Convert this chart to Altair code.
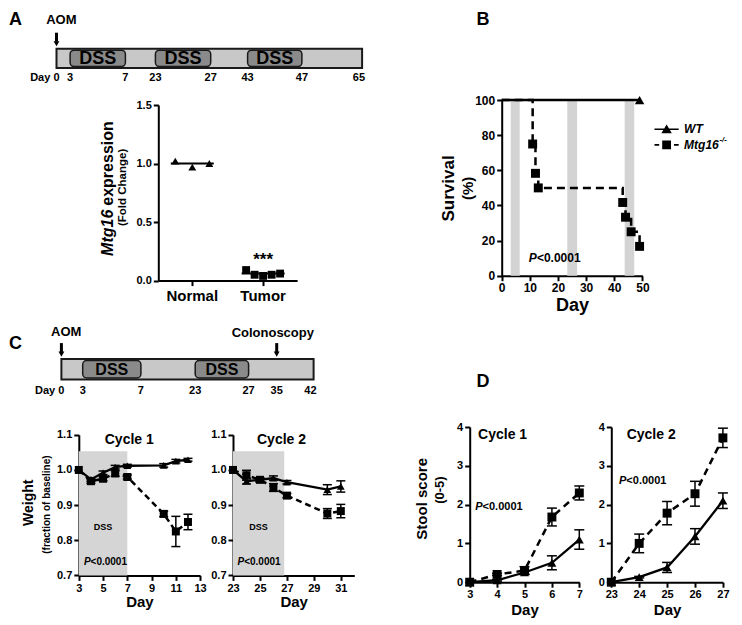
import altair as alt
import pandas as pd

FONT = "Liberation Sans"

# ---------------- data ----------------
# Panel A timeline (schematic, not to scale)
tlA_days = [0, 3, 7, 23, 27, 43, 47, 65]
tlA_tick_labels = ["Day 0", "3", "7", "23", "27", "43", "47", "65"]
tlA_dss_start = [3, 23, 43]
tlA_dss_end = [7, 27, 47]
tlA_arrow_days = [0]
tlA_arrow_text = ["AOM"]
dss_label = "DSS"

# Panel A expression
a_categories = ["Normal", "Tumor"]
a_group = ["Normal", "Normal", "Normal", "Tumor", "Tumor", "Tumor", "Tumor", "Tumor"]
a_rep = ["r1", "r3", "r5", "r1", "r2", "r3", "r4", "r5"]
a_value = [1.02, 0.97, 1.00, 0.09, 0.05, 0.04, 0.05, 0.06]
a_mean_group = ["Normal", "Tumor"]
a_mean = [1.00, 0.06]
a_signif = "***"

# Panel B survival
b_wt_day = [0, 49]
b_wt_surv = [100, 100]
b_ko_day = [0, 11, 12, 13, 43, 44, 46, 49]
b_ko_surv = [100, 75, 58.3, 50, 41.7, 33.3, 25, 16.7]
b_band_start = [3.2, 23.3, 43.7]
b_band_end = [6.4, 26.8, 47.1]
series_names = ["WT", "Mtg16"]
ko_superscript = "-/-"
p_text = "P<0.0001"

# Panel C timeline
tlC_days = [0, 3, 7, 23, 27, 35, 42]
tlC_tick_labels = ["Day 0", "3", "7", "23", "27", "35", "42"]
tlC_dss_start = [3, 23]
tlC_dss_end = [7, 27]
tlC_arrow_days = [0, 35]
tlC_arrow_text = ["AOM", "Colonoscopy"]

# Panel C weight
c1_day = [3, 4, 5, 6, 7, 10, 11, 12]
c1_wt = [1.000, 0.973, 0.992, 1.008, 1.012, 1.013, 1.025, 1.029]
c1_wt_err = [0, 0.005, 0.005, 0.005, 0.004, 0.005, 0.005, 0.004]
c1_ko = [1.000, 0.968, 0.975, 0.990, 0.980, 0.875, 0.825, 0.852]
c1_ko_err = [0, 0.006, 0.006, 0.008, 0.006, 0.008, 0.043, 0.022]

c2_day = [23, 24, 25, 26, 27, 30, 31]
c2_wt = [1.000, 0.968, 0.972, 0.977, 0.965, 0.944, 0.953]
c2_wt_err = [0, 0.008, 0.005, 0.006, 0.005, 0.014, 0.016]
c2_ko = [1.000, 0.985, 0.972, 0.950, 0.927, 0.876, 0.883]
c2_ko_err = [0, 0.014, 0.006, 0.011, 0.006, 0.014, 0.019]

# Panel D stool score
d1_day = [3, 4, 5, 6, 7]
d1_wt = [0, 0.05, 0.25, 0.50, 1.10]
d1_wt_err = [0, 0.02, 0.05, 0.18, 0.25]
d1_ko = [0, 0.20, 0.30, 1.68, 2.30]
d1_ko_err = [0, 0.03, 0.10, 0.23, 0.18]

d2_day = [23, 24, 25, 26, 27]
d2_wt = [0, 0.13, 0.38, 1.18, 2.10]
d2_wt_err = [0, 0.02, 0.13, 0.20, 0.20]
d2_ko = [0, 1.00, 1.78, 2.28, 3.72]
d2_ko_err = [0, 0.24, 0.30, 0.32, 0.25]

# ---------------- canvas geometry ----------------
CW, CH = 726, 606
S = 0.97


def cx(v):
    return round(v * S, 1)


def cy(v):
    return round(v * S, 1)


def xaxis_at(ybottom, **kw):
    return alt.Axis(orient="bottom", offset=cy(ybottom) - CH, labelFlush=False,
                    labelOverlap=False, **kw)


def yaxis_at(xleft, **kw):
    return alt.Axis(orient="left", offset=-cx(xleft), labelFlush=False,
                    labelOverlap=False, **kw)


# ---------------- helpers ----------------
def txt(x, y, s, size, align="center", baseline="middle", angle=None,
        italic=False, dx=None, dy=None):
    kw = dict(font=FONT, fontSize=size, align=align, baseline=baseline,
              color="black", fontWeight="bold")
    if italic:
        kw["fontStyle"] = "italic"
    if angle is not None:
        kw["angle"] = angle
    if dx is not None:
        kw["dx"] = dx
    if dy is not None:
        kw["dy"] = dy
    return alt.Chart(pd.DataFrame({"t": [s]})).mark_text(**kw).encode(
        x=alt.value(x), y=alt.value(y), text="t:N")


def dtxt(X, Y, xv, yv, s, size, align="center", baseline="middle", italic=False):
    kw = dict(font=FONT, fontSize=size, align=align, baseline=baseline,
              color="black", fontWeight="bold")
    if italic:
        kw["fontStyle"] = "italic"
    return alt.Chart(pd.DataFrame({"xv": [xv], "yv": [yv], "t": [s]})).mark_text(**kw).encode(
        x=X("xv"), y=Y("yv"), text="t:N")


def ptext(X, Y, xv, yv, size):
    return [dtxt(X, Y, xv, yv, p_text[0], size, align="right", italic=True),
            dtxt(X, Y, xv, yv, p_text[1:], size, align="left")]


def timeline(days, tick_labels, dss_s, dss_e, xpix, ytop, ybot, arrow_days, arrow_text,
             arrow_text_xy, letter, letter_xy, label_y, dss_size):
    xs = alt.Scale(domain=days, range=[cx(v) for v in xpix], zero=False, nice=False)

    def X(f):
        return alt.X(f"{f}:Q", scale=xs, axis=None)

    y0, y1 = cy(ytop), cy(ybot)
    layers = []
    bar = pd.DataFrame({"s": [days[0]], "e": [days[-1]]})
    layers.append(alt.Chart(bar).mark_rect(fill="#c8c8c8", stroke="#1a1a1a", strokeWidth=2).encode(
        x=X("s"), x2="e", y=alt.value(y0), y2=alt.value(y1)))
    dss = pd.DataFrame({"s": dss_s, "e": dss_e})
    layers.append(alt.Chart(dss).mark_rect(fill="#8a8a8a", stroke="#1a1a1a", strokeWidth=1.5,
                                           cornerRadius=4).encode(
        x=X("s"), x2="e", y=alt.value(y0 + 1.5), y2=alt.value(y1 - 1.5)))
    layers.append(alt.Chart(dss).transform_calculate(m="(datum.s + datum.e) / 2").mark_text(
        font=FONT, fontWeight="bold", fontSize=dss_size, color="black", baseline="middle").encode(
        x=X("m"), y=alt.value((y0 + y1) / 2 + 1), text=alt.value(dss_label)))
    ticks = pd.DataFrame({"d": days, "t": tick_labels})
    common = dict(font=FONT, fontWeight="bold", fontSize=11, color="black", baseline="middle")
    ly = cy(label_y)
    layers.append(alt.Chart(ticks.iloc[[0]]).mark_text(align="right", dx=3, **common).encode(
        x=X("d"), y=alt.value(ly), text="t:N"))
    layers.append(alt.Chart(ticks.iloc[1:-1]).mark_text(align="center", **common).encode(
        x=X("d"), y=alt.value(ly), text="t:N"))
    layers.append(alt.Chart(ticks.iloc[[-1]]).mark_text(align="right", dx=3, **common).encode(
        x=X("d"), y=alt.value(ly), text="t:N"))
    arr = pd.DataFrame({"d": arrow_days, "t": arrow_text})
    layers.append(alt.Chart(arr).mark_rule(color="black", strokeWidth=3).encode(
        x=X("d"), y=alt.value(y0 - 16), y2=alt.value(y0 - 7)))
    layers.append(alt.Chart(arr).mark_point(shape="triangle-down", filled=True, size=34,
                                            color="black", opacity=1).encode(
        x=X("d"), y=alt.value(y0 - 5)))
    for s, (tx, ty) in zip(arrow_text, arrow_text_xy):
        layers.append(txt(cx(tx), cy(ty), s, 13))
    layers.append(txt(cx(letter_xy[0]), cy(letter_xy[1]), letter, 18, align="left", baseline="top"))
    return alt.layer(*layers)


def cycle_chart(days, wt, wt_err, ko, ko_err, xdom, xticks, ydom, yticks, yfmt, xpix, ypix,
                title, title_xy, p_xy, p_size, band=None, band_label_xy=None,
                ylab=None, letter=None, tri_size=60, sq_size=64,
                x_label_pad=2, title_pad=1, cap=9, dash=(6, 4)):
    xs = alt.Scale(domain=xdom, range=[cx(xpix[0]), cx(xpix[1])], nice=False, zero=False)
    ys = alt.Scale(domain=ydom, range=[cy(ypix[0]), cy(ypix[1])], nice=False, zero=False)
    xax = xaxis_at(ypix[0], values=xticks, title="Day", titleFontSize=15,
                   labelPadding=x_label_pad, titlePadding=title_pad)
    yax = yaxis_at(xpix[0], values=yticks, format=yfmt, title=None)

    def X(f):
        return alt.X(f"{f}:Q", scale=xs, axis=xax)

    def Y(f):
        return alt.Y(f"{f}:Q", scale=ys, axis=yax)

    layers = []
    if band is not None:
        bdf = pd.DataFrame({"x0": [band[0]], "x1": [band[1]], "y0": [band[2]], "y1": [band[3]]})
        layers.append(alt.Chart(bdf).mark_rect(fill="#d5d5d5").encode(
            x=X("x0"), x2="x1", y=Y("y0"), y2="y1"))
        layers.append(dtxt(X, Y, band_label_xy[0], band_label_xy[1], dss_label, 9))
    n = len(days)
    df = pd.DataFrame({"day": list(days) * 2, "val": list(wt) + list(ko),
                       "err": list(wt_err) + list(ko_err), "g": ["WT"] * n + ["KO"] * n})
    wt_base = alt.Chart(df).transform_filter("datum.g == 'WT'")
    ko_base = alt.Chart(df).transform_filter("datum.g == 'KO'")
    layers.append(wt_base.mark_line(color="black", strokeWidth=2.3).encode(x=X("day"), y=Y("val")))
    layers.append(ko_base.mark_line(color="black", strokeWidth=2.5, strokeDash=list(dash)).encode(
        x=X("day"), y=Y("val")))
    eb = alt.Chart(df).transform_filter("datum.err > 0").transform_calculate(
        lo="datum.val - datum.err", hi="datum.val + datum.err")
    layers.append(eb.mark_rule(color="black", strokeWidth=1.5).encode(x=X("day"), y=Y("lo"), y2="hi"))
    layers.append(eb.mark_tick(color="black", orient="horizontal", size=cap, thickness=1.5,
                               opacity=1).encode(x=X("day"), y=Y("lo")))
    layers.append(eb.mark_tick(color="black", orient="horizontal", size=cap, thickness=1.5,
                               opacity=1).encode(x=X("day"), y=Y("hi")))
    layers.append(wt_base.mark_point(shape="triangle-up", filled=True, size=tri_size, color="black",
                                     opacity=1).encode(x=X("day"), y=Y("val")))
    layers.append(ko_base.mark_point(shape="square", filled=True, size=sq_size, color="black",
                                     opacity=1).encode(x=X("day"), y=Y("val")))
    layers.append(dtxt(X, Y, title_xy[0], title_xy[1], title, 14))
    layers += ptext(X, Y, p_xy[0], p_xy[1], p_size)
    if ylab is not None:
        for (lx, ly, s, size) in ylab:
            layers.append(txt(cx(lx), cy(ly), s, size, angle=270))
    if letter is not None:
        layers.append(txt(cx(letter[0]), cy(letter[1]), letter[2], 18, align="left", baseline="top"))
    return alt.layer(*layers)


# ---------------- Panel A ----------------
tlA = timeline(tlA_days, tlA_tick_labels, tlA_dss_start, tlA_dss_end,
               [50, 64, 121, 152, 209, 247, 303, 365], 42, 62,
               tlA_arrow_days, tlA_arrow_text, [(55, 12)], "A", (1, 3), 72, 18)

xA_scale = alt.Scale(domain=a_categories, range=[cx(155), cx(298)], paddingInner=0.4,
                     paddingOuter=0.18)
xA_axis = xaxis_at(281, title=None, labelAngle=0, labelFontSize=15, labelPadding=3)
yA_scale = alt.Scale(domain=[0, 1.5], range=[cy(281), cy(100)], nice=False)
yA_axis = yaxis_at(155, values=[0, 0.5, 1.0, 1.5], format=".1f", title=None)


def XA(f):
    return alt.X(f"{f}:N", scale=xA_scale, axis=xA_axis)


def YA(f):
    return alt.Y(f"{f}:Q", scale=yA_scale, axis=yA_axis)


a_df = pd.DataFrame({"group": a_group, "rep": a_rep, "value": a_value})
a_mean_df = pd.DataFrame({"group": a_mean_group, "value": a_mean})
mtg_bottom = cy(186) + 67.5
mtg_split = mtg_bottom - 46.2
scA = alt.layer(
    alt.Chart(a_mean_df).mark_tick(color="black", size=43, thickness=2, opacity=1).encode(
        x=XA("group"), y=YA("value")),
    alt.Chart(a_df).mark_point(filled=True, size=62, color="black", opacity=1).encode(
        x=XA("group"),
        xOffset=alt.XOffset("rep:N", scale=alt.Scale(domain=["r1", "r2", "r3", "r4", "r5"])),
        y=YA("value"),
        shape=alt.Shape("group:N", scale=alt.Scale(domain=a_categories,
                                                   range=["triangle-up", "square"]), legend=None)),
    alt.Chart(pd.DataFrame({"group": ["Tumor"], "value": [0.18], "t": [a_signif]})).mark_text(
        font=FONT, fontWeight="bold", fontSize=17, color="black", baseline="middle").encode(
        x=XA("group"), y=YA("value"), text="t:N"),
    txt(cx(103), mtg_split, "Mtg16", 16, align="right", angle=270, italic=True),
    txt(cx(103), mtg_split, "expression", 16, align="left", angle=270, dx=4),
    txt(cx(118), cy(185), "(Fold Change)", 11.5, angle=270),
)

# ---------------- Panel B ----------------
xB_scale = alt.Scale(domain=[0, 50], range=[cx(509), cx(654)], nice=False)
yB_scale = alt.Scale(domain=[0, 100], range=[cy(276), cy(95)], nice=False)
xB_axis = xaxis_at(276, values=[0, 10, 20, 30, 40, 50], title="Day", titleFontSize=18,
                   labelFontSize=12, titlePadding=3)
yB_axis = yaxis_at(509, values=[0, 20, 40, 60, 80, 100], title=None, labelFontSize=12)


def XB(f):
    return alt.X(f"{f}:Q", scale=xB_scale, axis=xB_axis)


def YB(f):
    return alt.Y(f"{f}:Q", scale=yB_scale, axis=yB_axis)


band_df = pd.DataFrame({"s": b_band_start, "e": b_band_end, "lo": 0, "hi": 100})
wt_df = pd.DataFrame({"day": b_wt_day, "surv": b_wt_surv})
ko_df = pd.DataFrame({"day": b_ko_day, "surv": b_ko_surv})
WT_PATH = "M-2.2,-0.13H2.2V0.13H-2.2Z M0,-0.85L0.95,0.75H-0.95Z"
KO_PATH = "M-2.2,-0.16H-1.35V0.16H-2.2Z M1.35,-0.16H2.2V0.16H1.35Z M-0.8,-0.8H0.8V0.8H-0.8Z"

B_layers = [
    alt.Chart(band_df).mark_rect(fill="#d3d3d3").encode(
        x=XB("s"), x2="e", y=YB("lo"), y2="hi"),
    alt.Chart(ko_df).mark_line(color="black", strokeWidth=2.5, strokeDash=[8, 5],
                               interpolate="step-after").encode(x=XB("day"), y=YB("surv")),
    alt.Chart(wt_df).mark_line(color="black", strokeWidth=2.5).encode(x=XB("day"), y=YB("surv")),
    alt.Chart(ko_df.iloc[1:]).mark_point(shape="square", filled=True, size=80, color="black",
                                         opacity=1).encode(x=XB("day"), y=YB("surv")),
    alt.Chart(wt_df.iloc[[-1]]).mark_point(shape="triangle-up", filled=True, size=90, color="black",
                                           opacity=1).encode(x=XB("day"), y=YB("surv")),
]
B_layers += ptext(XB, YB, 12.5, 10, 12)
B_layers += [
    alt.Chart(pd.DataFrame({"s": [0]})).mark_point(shape=WT_PATH, filled=True, size=121,
                                                   color="black", opacity=1).encode(
        x=alt.value(cx(679)), y=alt.value(cy(125))),
    alt.Chart(pd.DataFrame({"s": [0]})).mark_point(shape=KO_PATH, filled=True, size=121,
                                                   color="black", opacity=1).encode(
        x=alt.value(cx(679)), y=alt.value(cy(141))),
    txt(cx(697), cy(125), series_names[0], 12, align="left", italic=True),
    txt(cx(697), cy(141), series_names[1], 12, align="left", italic=True),
    txt(cx(697) + 35.5, cy(141) - 4.5, ko_superscript, 7.5, align="left", italic=True),
    txt(cx(455), cy(186), "Survival", 17, angle=270),
    txt(cx(474), cy(186), "(%)", 15, angle=270),
    txt(cx(483), cy(3), "B", 18, align="left", baseline="top"),
]
B = alt.layer(*B_layers)

# ---------------- Panel C ----------------
tlC = timeline(tlC_days, tlC_tick_labels, tlC_dss_start, tlC_dss_end,
               [55, 77, 137, 193, 248, 277, 315], 362, 383,
               tlC_arrow_days, tlC_arrow_text, [(60, 334), (273, 335)], "C", (1, 337), 395, 16)

C1 = cycle_chart(c1_day, c1_wt, c1_wt_err, c1_ko, c1_ko_err, [3, 13], [3, 5, 7, 9, 11, 13],
                 [0.7, 1.1], [0.7, 0.8, 0.9, 1.0, 1.1], ".1f", (73, 198), (585, 440),
                 "Cycle 1", (7.16, 1.086), (3.97, 0.739), 10,
                 band=(3, 7, 0.7, 1.053), band_label_xy=(5, 0.838),
                 ylab=[(22, 510, "Weight", 14), (40, 512, "(fraction of baseline)", 10)])
C2 = cycle_chart(c2_day, c2_wt, c2_wt_err, c2_ko, c2_ko_err, [23, 32], [23, 25, 27, 29, 31],
                 [0.7, 1.1], [0.7, 0.8, 0.9, 1.0, 1.1], ".1f", (232, 357), (585, 440),
                 "Cycle 2", (26.6, 1.086), (23.83, 0.739), 10,
                 band=(23, 26.8, 0.7, 1.053), band_label_xy=(24.9, 0.838))

# ---------------- Panel D ----------------
D1 = cycle_chart(d1_day, d1_wt, d1_wt_err, d1_ko, d1_ko_err, [3, 7], [3, 4, 5, 6, 7],
                 [0, 4], [0, 1, 2, 3, 4], "d", (476, 589), (592, 432),
                 "Cycle 1", (4.2, 3.8), (3.47, 1.93), 11,
                 ylab=[(427, 506, "Stool score", 15), (445, 497, "(0-5)", 13)],
                 letter=(483, 376, "D"),
                 tri_size=80, sq_size=80, x_label_pad=1, title_pad=3, cap=10, dash=(7, 5))
D2 = cycle_chart(d2_day, d2_wt, d2_wt_err, d2_ko, d2_ko_err, [23, 27], [23, 24, 25, 26, 27],
                 [0, 4], [0, 1, 2, 3, 4], "d", (622, 737), (592, 432),
                 "Cycle 2", (24.43, 3.8), (23.54, 2.62), 11,
                 tri_size=80, sq_size=80, x_label_pad=1, title_pad=3, cap=10, dash=(7, 5))

# ---------------- assemble ----------------
chart = alt.layer(tlA, scA, B, tlC, C1, C2, D1, D2).resolve_scale(
    x="independent", y="independent"
).resolve_axis(
    x="independent", y="independent"
).properties(
    width=CW, height=CH, padding=0, background="white"
).configure_view(stroke=None).configure_axis(
    domainColor="black", domainWidth=2, tickColor="black", tickWidth=2, tickSize=5,
    labelColor="black", labelFont=FONT, labelFontWeight="bold", labelFontSize=11,
    titleFont=FONT, titleFontWeight="bold", titleColor="black", grid=False, labelPadding=2,
)

chart.save("out.html", embed_options={"renderer": "svg", "actions": False})
